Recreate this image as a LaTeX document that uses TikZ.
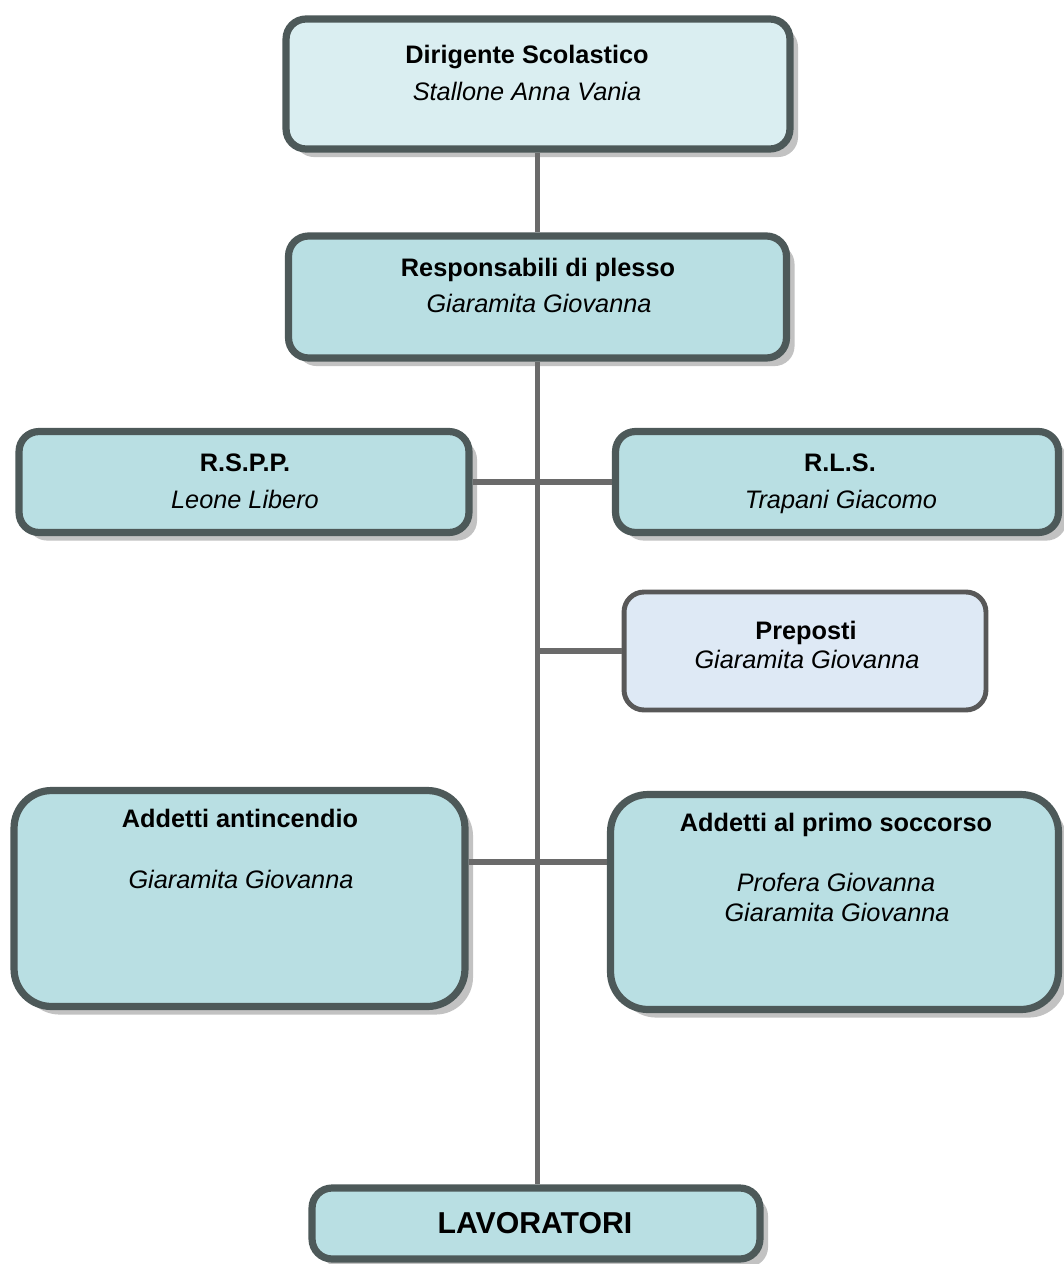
\documentclass[tikz,border=0pt]{standalone}
\usepackage{fontspec}
\setmainfont{Liberation Sans}
\usepackage{tikz}
\usetikzlibrary{calc,positioning,shadows}
\definecolor{boxline}{RGB}{77,89,89}
\definecolor{topfill}{RGB}{218,238,241}
\definecolor{boxfill}{RGB}{185,223,227}
\definecolor{prepfill}{RGB}{222,233,245}
\definecolor{prepline}{RGB}{88,88,88}
\definecolor{linkgray}{RGB}{106,106,106}

\begin{document}
\begin{tikzpicture}[x=0.02cm,y=-0.02cm,
	box/.style={draw=boxline,line width=4.1pt,fill=boxfill,rounded corners=0.4cm,
		inner sep=0pt,drop shadow={shadow xshift=4.6pt,shadow yshift=-4.6pt,fill=black!24,opacity=1}},
	tallbox/.style={box,rounded corners=0.75cm},
	title/.style={anchor=base,font=\bfseries\fontsize{14.4}{17}\selectfont},
	who/.style={anchor=base,font=\itshape\fontsize{14.4}{17}\selectfont},
	link/.style={draw=linkgray,line width=3.4pt}]
		\useasboundingbox (0,0) rectangle (1064,1264);
		% boxes
		\node[box,fill=topfill,minimum width=10.08cm,minimum height=2.6cm] (ds) at (538,84) {};
		\node[box,minimum width=9.96cm,minimum height=2.44cm] (rp) at (537.5,297) {};
		\node[box,minimum width=9.0cm,minimum height=2.02cm] (rspp) at (244,482) {};
		\node[box,minimum width=8.86cm,minimum height=2.02cm] (rls) at (837,482) {};
		\node[draw=prepline,line width=2.8pt,fill=prepfill,rounded corners=0.4cm,inner sep=0pt,
			minimum width=7.24cm,minimum height=2.36cm] (prep) at (805,651) {};
		\node[tallbox,minimum width=9.02cm,minimum height=4.32cm] (anti) at (239.5,898.5) {};
		\node[tallbox,minimum width=8.96cm,minimum height=4.3cm] (ps) at (834.5,902) {};
		\node[box,minimum width=8.96cm,minimum height=1.42cm] (lav) at (536,1223.5) {};
		% texts
		\node[title] (ds-t) at (527,64) {Dirigente Scolastico};
		\node[who] (ds-n) at (527,101) {Stallone Anna Vania};
		\node[title] (rp-t) at (538,276) {Responsabili di plesso};
		\node[who] (rp-n) at (539,312) {Giaramita Giovanna};
		\node[title] (rspp-t) at (245,471) {R.S.P.P.};
		\node[who] (rspp-n) at (245,508) {Leone Libero};
		\node[title] (rls-t) at (840,471) {R.L.S.};
		\node[who] (rls-n) at (841,508) {Trapani Giacomo};
		\node[title] (prep-t) at (806,639) {Preposti};
		\node[who] (prep-n) at (807,668) {Giaramita Giovanna};
		\node[title] (anti-t) at (240,827) {Addetti antincendio};
		\node[who] (anti-n) at (241,888) {Giaramita Giovanna};
		\node[title] (ps-t) at (836,831) {Addetti al primo soccorso};
		\node[who] (ps-n1) at (836,891) {Profera Giovanna};
		\node[who] (ps-n2) at (837,921) {Giaramita Giovanna};
		\node[anchor=base,font=\bfseries\fontsize{17.2}{20}\selectfont] (lav-t) at (535,1233) {LAVORATORI};
		% connectors
		\coordinate (fa) at (537,862);
		\draw[link] (rp.north) -- (rp.north |- ds.south);
		\draw[link] (rp.south) -- (rp.south |- lav.north);
		\draw[link] (rspp.east) -- (rls.west);
		\draw[link] (prep.west) -- (prep.west -| rp.south);
		\draw[link] (fa -| anti.east) -- (fa -| ps.west);
	\end{tikzpicture}
\end{document}
